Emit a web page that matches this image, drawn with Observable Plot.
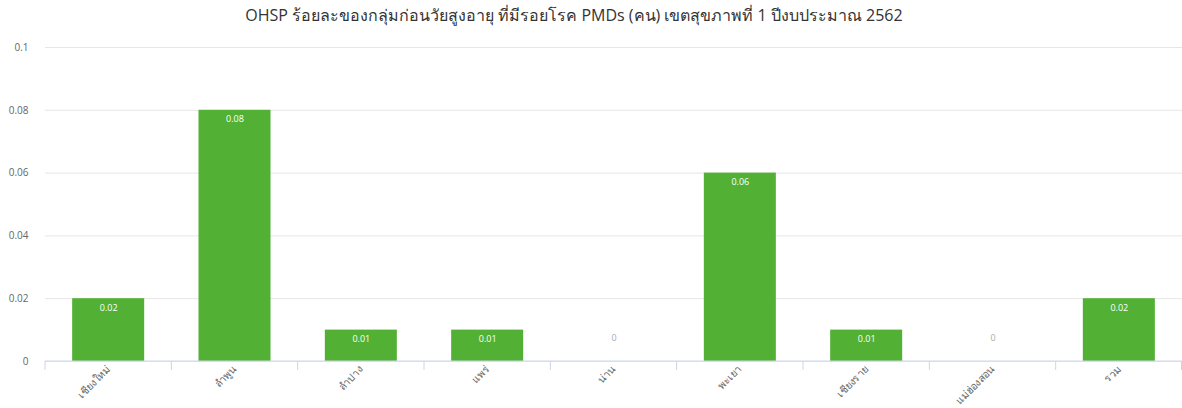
<!DOCTYPE html>
<html>
<head>
<meta charset="utf-8">
<script src="https://cdn.jsdelivr.net/npm/d3@7"></script>
<script src="https://cdn.jsdelivr.net/npm/@observablehq/plot@0.6"></script>
<style>
  html, body { margin: 0; padding: 0; background: #fff; }
  body { width: 1182px; height: 408px; overflow: hidden; font-family: "Open Sans", "Noto Sans", "DejaVu Sans", sans-serif; }
  #title { height: 30px; line-height: 30px; text-align: center; font-size: 16px; color: #333; padding-right: 34px; }
  #chart svg { display: block; }
</style>
</head>
<body>
<div id="title">OHSP ร้อยละของกลุ่มก่อนวัยสูงอายุ ที่มีรอยโรค PMDs (คน) เขตสุขภาพที่ 1 ปีงบประมาณ 2562</div>
<div id="chart"></div>
<script>
const categories = ["เชียงใหม่", "ลำพูน", "ลำปาง", "แพร่", "น่าน", "พะเยา", "เชียงราย", "แม่ฮ่องสอน", "รวม"];
const values = [0.02, 0.08, 0.01, 0.01, 0, 0.06, 0.01, 0, 0.02];
const yTicks = [0, 0.02, 0.04, 0.06, 0.08, 0.1];

const data = categories.map((c, i) => ({category: c, value: values[i]}));

const boundaryTicks = (index, scales, values, dimensions) => {
  const x = scales.x;
  const step = x.step();
  const bw = x.bandwidth();
  const g = d3.create("svg:g");
  const y0 = dimensions.height - dimensions.marginBottom;
  const xs = [];
  categories.forEach((c, i) => {
    const left = x(c) - (step - bw) / 2;
    xs.push(left);
    if (i === categories.length - 1) xs.push(left + step - 0.5);
  });
  g.selectAll("line").data(xs).join("line")
    .attr("x1", d => d).attr("x2", d => d)
    .attr("y1", y0).attr("y2", y0 + 9)
    .attr("stroke", "#ccd6eb");
  g.append("line")
    .attr("x1", dimensions.marginLeft).attr("x2", dimensions.width - dimensions.marginRight)
    .attr("y1", y0).attr("y2", y0)
    .attr("stroke", "#ccd6eb");
  return g.node();
};

const chart = Plot.plot({
  width: 1182,
  height: 378,
  marginTop: 17,
  marginBottom: 47,
  marginLeft: 45,
  marginRight: 0,
  style: {fontFamily: "'Open Sans', 'Noto Sans', 'DejaVu Sans', sans-serif", color: "#666", background: "#fff"},
  x: {domain: categories, paddingInner: 0.43, paddingOuter: 0.215, round: false, label: null},
  y: {domain: [0, 0.1], ticks: yTicks, label: null},
  marks: [
    Plot.gridY(yTicks, {stroke: "#e6e6e6", strokeOpacity: 1}),
    Plot.axisY({ticks: yTicks, tickSize: 0, tickPadding: 17, fontSize: 10, fill: "#666", tickFormat: d => String(d)}),
    Plot.barY(data, {x: "category", y: "value", fill: "#52b135"}),
    boundaryTicks,
    Plot.axisX({tickSize: 0, tickPadding: 6, tickRotate: -45, fontSize: 10.5, fill: "#666"}),
    Plot.text(data.filter(d => d.value > 0), {x: "category", y: "value", text: d => String(d.value), dy: 9, fill: "#fff", fontSize: 9}),
    Plot.text(data.filter(d => d.value === 0), {x: "category", y: "value", text: d => String(d.value), dy: -23, fill: "#aaa", stroke: "#fff", strokeWidth: 3, fontSize: 9})
  ]
});
document.getElementById("chart").appendChild(chart);
</script>
</body>
</html>
